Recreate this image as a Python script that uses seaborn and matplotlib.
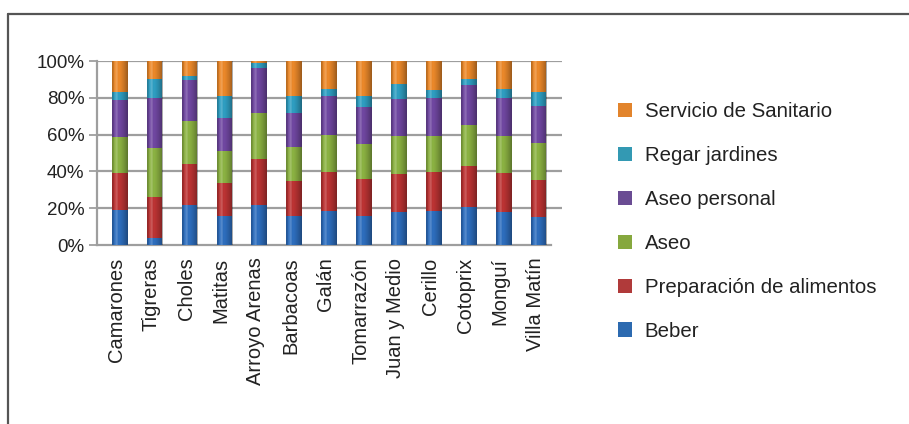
import numpy as np
import pandas as pd
import matplotlib
matplotlib.use("Agg")
import matplotlib.pyplot as plt
import seaborn as sns
from matplotlib.patches import Patch
from matplotlib.lines import Line2D

categories = ["Camarones", "Tigreras", "Choles", "Matitas", "Arroyo Arenas",
              "Barbacoas", "Galán", "Tomarrazón", "Juan y Medio", "Cerillo",
              "Cotoprix", "Monguí", "Villa Matín"]
beber = [19, 4, 22, 16, 22, 16, 18.5, 16, 18, 18.5, 20.5, 18, 15.5]
preparacion = [20, 22, 22, 18, 25, 19, 21, 20, 20.5, 21, 22.5, 21, 20]
aseo = [20, 27, 23.5, 17, 25, 18.5, 20.5, 19, 21, 20, 22, 20.5, 20]
aseo_personal = [20, 27, 22, 18, 24, 18.5, 21, 20, 20, 20.5, 22, 20.5, 20]
regar = [4, 10, 2.5, 12, 3, 9, 4, 6, 8, 4, 3, 5, 7.5]
sanitario = [17, 10, 8, 19, 1, 19, 15, 19, 12.5, 16, 10, 15, 17]

series_names = ["Beber", "Preparación de alimentos", "Aseo", "Aseo personal",
                "Regar jardines", "Servicio de Sanitario"]
bar_colors = ["#2E6FC0", "#BE3434", "#8DB443", "#7148A3", "#2FA0C4", "#EE8A2A"]
legend_colors = ["#2C6AB0", "#B03A3A", "#86A83E", "#6A4C93", "#3399B3", "#E2842C"]

df = pd.DataFrame({name: vals for name, vals in zip(
    series_names, [beber, preparacion, aseo, aseo_personal, regar, sanitario])},
    index=categories)
cum = df.cumsum(axis=1)

sns.set_theme(style="white")
plt.rcParams["font.family"] = ["Liberation Sans", "DejaVu Sans"]

fig = plt.figure(figsize=(9.09, 4.24), dpi=100)
ax = fig.add_axes([0.1067, 0.422, 0.5116, 0.434])

for name, color in reversed(list(zip(series_names, bar_colors))):
    sns.barplot(x=categories, y=cum[name].values, color=color, width=0.45,
                saturation=1, ax=ax, zorder=3, linewidth=0)

# cylinder-like shading on each full column
grad_x = np.linspace(0, 1, 64)
rgba = np.zeros((1, 64, 4))
for i, g in enumerate(grad_x):
    if g < 0.38:
        w = 1 - g / 0.38
        rgba[0, i] = [0, 0, 0, 0.25 * w ** 2]
        hi = max(0, 1 - abs(g - 0.3) / 0.15)
        if hi > 0:
            rgba[0, i] = [1, 1, 1, 0.22 * hi]
    else:
        w = (g - 0.38) / 0.62
        rgba[0, i] = [0, 0, 0, 0.35 * w ** 1.5]
for p in list(ax.patches)[:len(categories)]:
    x0, y0 = p.get_x(), p.get_y()
    im = ax.imshow(rgba, extent=[x0, x0 + p.get_width(), y0, y0 + p.get_height()],
                   aspect="auto", zorder=4, interpolation="bilinear")
    im.set_clip_path(p)

n = len(categories)
shift = 0.15
ax.set_xlim(-0.5 - shift, n - 0.5 - shift + 0.32)
ax.set_ylim(0, 100)
grid_c = "#9E9E9E"
for v in range(20, 101, 20):
    ax.axhline(v, color=grid_c, lw=1.6, zorder=1)
ax.set_yticks(range(0, 101, 20))
ax.set_yticklabels([f"{v}%" for v in range(0, 101, 20)])
ax.set_xticks(np.arange(n) - 0.1)
ax.set_xticklabels(categories, rotation=90)
ax.set_xticks(np.arange(n + 1) - 0.5 - shift, minor=True)
ax.tick_params(axis="x", which="major", length=0, labelsize=14.5, pad=9,
               colors="#222222")
ax.tick_params(axis="x", which="minor", length=6, width=1.3, color=grid_c,
               direction="out")
ax.tick_params(axis="y", length=6, width=1.3, color=grid_c, labelsize=13.5,
               labelcolor="#222222", pad=3, direction="out", left=True)
for s in ["top", "right"]:
    ax.spines[s].set_visible(False)
for s in ["left", "bottom"]:
    ax.spines[s].set_color(grid_c)
    ax.spines[s].set_linewidth(1.6)
ax.spines["bottom"].set_bounds(-0.5 - shift, n - 0.5 - shift)
ax.set_xlabel("")
ax.set_ylabel("")

handles = [Patch(facecolor=c, edgecolor="none") for c in legend_colors]
leg = fig.legend(handles[::-1], series_names[::-1], loc="upper left",
                 bbox_to_anchor=(0.68, 0.759), frameon=False, fontsize=14.7,
                 handlelength=0.7, handleheight=0.7, handletextpad=0.6,
                 labelspacing=1.22, borderpad=0, borderaxespad=0)
for t in leg.get_texts():
    t.set_color("#222222")

border_c = "#555555"
fig.add_artist(Line2D([8 / 909, 1], [1 - 14 / 424, 1 - 14 / 424],
                      transform=fig.transFigure, color=border_c, lw=1.6))
fig.add_artist(Line2D([8 / 909, 8 / 909], [0, 1 - 14 / 424],
                      transform=fig.transFigure, color=border_c, lw=1.6))

fig.savefig("out.png", dpi=100)
